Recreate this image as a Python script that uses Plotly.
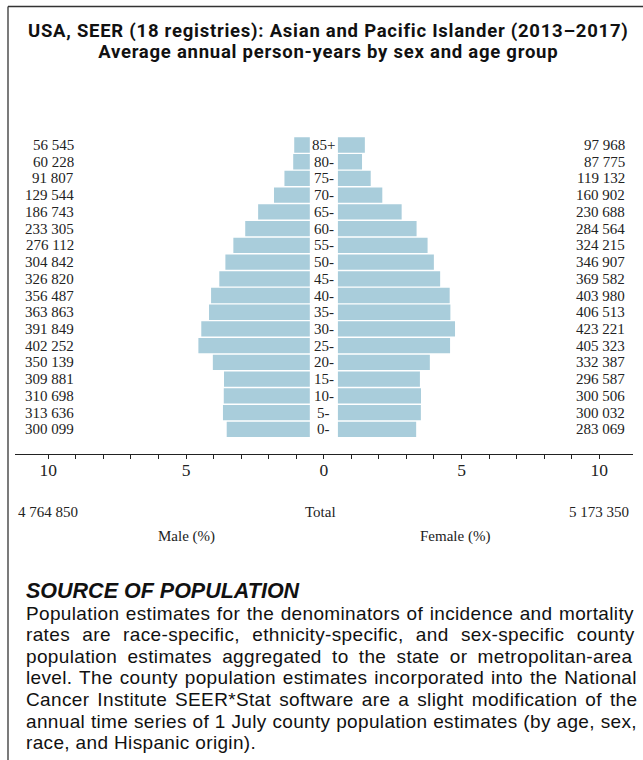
import plotly.graph_objects as go

# ---------------- data ----------------
ages = ["0-", "5-", "10-", "15-", "20-", "25-", "30-", "35-", "40-", "45-",
        "50-", "55-", "60-", "65-", "70-", "75-", "80-", "85+"]
male = [300099, 313636, 310698, 309881, 350139, 402252, 391849, 363863, 356487,
        326820, 304842, 276112, 233305, 186743, 129544, 91807, 60228, 56545]
female = [283069, 300032, 300506, 296587, 332387, 405323, 423221, 406513, 403980,
          369582, 346907, 324215, 284564, 230688, 160902, 119132, 87775, 97968]
male_total = 4764850
female_total = 5173350
tick_vals = list(range(-10, 11))
tick_text = ["10" if v == -10 else "5" if v == -5 else "0" if v == 0 else
             "5" if v == 5 else "10" if v == 10 else "" for v in tick_vals]

title1 = "USA, SEER (18 registries): Asian and Pacific Islander (2013\u20132017)"
title2 = "Average annual person-years by sex and age group"
source_head = "SOURCE OF POPULATION"
source_lines = [
    "Population estimates for the denominators of incidence and mortality",
    "rates are race-specific, ethnicity-specific, and sex-specific county",
    "population estimates aggregated to the state or metropolitan-area",
    "level. The county population estimates incorporated into the National",
    "Cancer Institute SEER*Stat software are a slight modification of the",
    "annual time series of 1 July county population estimates (by age, sex,",
    "race, and Hispanic origin).",
]
# approximate natural widths (px) of each body line at 17.5px, for justification only
natural_175 = [534, 504, 512, 531, 521, 539, None]

# ---------------- geometry helpers ----------------
W, H = 643, 760
def px(x):
    return x / W
def py(y):
    return 1 - y / H

grand = male_total + female_total
male_pct = [v / grand * 100 for v in male]
female_pct = [v / grand * 100 for v in female]

def fmt(n):
    return f"{n:,}".replace(",", " ")

BAR = "#a9cddb"
TXT = "#222222"
SERIF = "Liberation Serif"
SANS = "Liberation Sans"

scale = 27.55          # px per unit
center = 323.8
half_gap = 13.9
left_edge = center - 11.22 * scale
right_edge = center + 11.22 * scale
xr = (center - half_gap - left_edge) / scale

fig = go.Figure()
fig.add_trace(go.Bar(y=ages, x=male_pct, orientation="h", xaxis="x2", yaxis="y",
                     marker=dict(color=BAR, line=dict(width=0)), hoverinfo="skip"))
fig.add_trace(go.Bar(y=ages, x=female_pct, orientation="h", xaxis="x3", yaxis="y",
                     marker=dict(color=BAR, line=dict(width=0)), hoverinfo="skip"))
fig.add_trace(go.Scatter(x=[], y=[], xaxis="x", yaxis="y", hoverinfo="skip"))

row = 16.72
y_top = 145 - row / 2
y_bot = 429.3 + row / 2

annotations = []
NUMSIZE = 15
for a, m, f in zip(ages, male, female):
    annotations.append(dict(x=px(76), y=a, xref="paper", yref="y", text=fmt(m),
                            xanchor="right", yanchor="middle", showarrow=False,
                            font=dict(family=SERIF, size=NUMSIZE, color=TXT)))
    annotations.append(dict(x=px(627), y=a, xref="paper", yref="y", text=fmt(f),
                            xanchor="right", yanchor="middle", showarrow=False,
                            font=dict(family=SERIF, size=NUMSIZE, color=TXT)))
    annotations.append(dict(x=px(323.5), y=a, xref="paper", yref="y", text=a,
                            xanchor="center", yanchor="middle", showarrow=False,
                            font=dict(family=SERIF, size=NUMSIZE, color=TXT)))

def note(x, y, text, anchor, font, yanchor="middle", align="left"):
    annotations.append(dict(x=px(x), y=py(y), xref="paper", yref="paper", text=text,
                            xanchor=anchor, yanchor=yanchor, align=align,
                            showarrow=False, font=font))

sf = dict(family=SERIF, size=NUMSIZE, color=TXT)
note(15.5, 512, fmt(male_total), "left", sf)
note(320.5, 512, "Total", "center", sf)
note(630.5, 512, fmt(female_total), "right", sf)
note(186, 536, "Male (%)", "center", sf)
note(455, 536, "Female (%)", "center", sf)

# title: two lines in one annotation; base size sets the line pitch (1.3 em)
T_PITCH = 21.0
T_SIZE = 18.5
T_LS = 0.75
title_txt = "<br>".join(
    f'<b><span style="font-size:{T_SIZE}px;letter-spacing:{T_LS}px">{t}</span></b>'
    for t in (title1, title2))
note(328.5, 18.0, title_txt, "center",
     dict(family="Roboto", size=T_PITCH / 1.3, color="#111111"), yanchor="top",
     align="center")

# source block: heading + justified body in one annotation
PITCH = 21.6
BODY = 19.0
LS = 0.35
target = 611
parts = [f'<b><i><span style="font-size:21.5px">{source_head}</span></i></b>']
for i, line in enumerate(source_lines):
    nat = natural_175[i]
    style = f"font-size:{BODY}px;letter-spacing:{LS}px"
    if nat is not None:
        natw = nat * BODY / 17.5 + len(line) * LS
        ws = (target - natw) / line.count(" ")
        style += f";word-spacing:{ws:.2f}px"
    parts.append(f'<span style="{style}">{line}</span>')
block = "<br>".join(parts)
note(23.5, 577, block, "left",
     dict(family=SANS, size=PITCH / 1.3, color="#111111"), yanchor="top")

shapes = [
    dict(type="line", xref="paper", yref="paper", x0=px(8), x1=1, y0=py(6.5), y1=py(6.5),
         line=dict(color="#333333", width=1.3)),
    dict(type="line", xref="paper", yref="paper", x0=px(8), x1=px(8), y0=py(6.5), y1=0,
         line=dict(color="#333333", width=1.3)),
]

fig.update_layout(
    width=W, height=H, margin=dict(l=0, r=0, t=0, b=0),
    paper_bgcolor="white", plot_bgcolor="rgba(0,0,0,0)",
    showlegend=False, bargap=0.085, barmode="overlay",
    annotations=annotations, shapes=shapes,
    yaxis=dict(domain=[py(y_bot), py(y_top)], type="category", categoryorder="array",
               categoryarray=ages, range=[-0.5, 17.5], visible=False, fixedrange=True),
    xaxis=dict(domain=[px(left_edge), px(right_edge)], range=[-11.22, 11.22],
               anchor="free", position=py(454.3), side="bottom",
               showline=True, linecolor="#222222",
               linewidth=1.3, ticks="outside", ticklen=4, tickwidth=1, tickcolor="#222222",
               tickvals=tick_vals, ticktext=tick_text, showgrid=False, zeroline=False,
               ticklabelstandoff=-4,
               tickfont=dict(family=SERIF, size=17.5, color=TXT), fixedrange=True),
    xaxis2=dict(domain=[px(left_edge), px(center - half_gap)], range=[xr, 0],
                anchor="y", visible=False, fixedrange=True),
    xaxis3=dict(domain=[px(center + half_gap), px(right_edge)], range=[0, xr],
                anchor="y", visible=False, fixedrange=True),
)

fig.write_html("out.html", config={"displayModeBar": False},
               post_script=["document.body.style.margin='0';"])
